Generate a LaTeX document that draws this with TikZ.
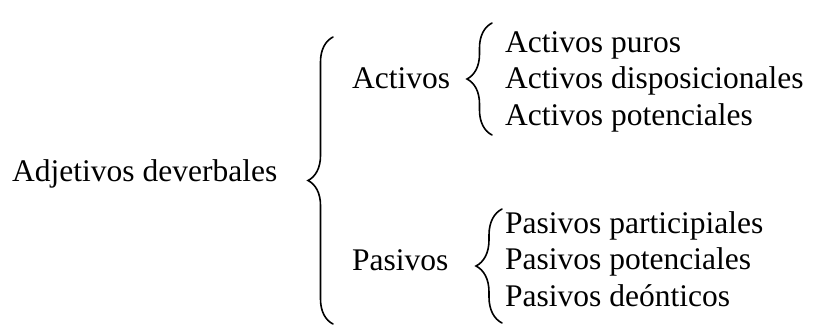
\documentclass[tikz,border=0pt]{standalone}
\usepackage{fontspec}
\setmainfont{Liberation Serif}
\usetikzlibrary{decorations.pathreplacing}
\tikzset{
  txt/.style={anchor=base west, inner sep=0pt, font=\fontsize{31.5}{36}\selectfont},
  bracel/.style={decorate, decoration={brace, amplitude=#1}, line width=1.6pt, line cap=round}
}
\begin{document}
\begin{tikzpicture}[x=1pt, y=-1pt]
\useasboundingbox (0,0) rectangle (813,325);
% root
\node[txt] (root) at (12,181) {Adjetivos deverbales};
% level 1
\node[txt] (act) at (352,88) {Activos};
\node[txt] (pas) at (352,270) {Pasivos};
% level 2
\node[txt] (a1) at (505,52) {Activos puros};
\node[txt] (a2) at (505,88.5) {Activos disposicionales};
\node[txt] (a3) at (505,125) {Activos potenciales};
\node[txt] (p1) at (505,233) {Pasivos participiales};
\node[txt] (p2) at (505,269.5) {Pasivos potenciales};
\node[txt] (p3) at (505,306) {Pasivos deónticos};
% braces
\coordinate (b0s) at (333,324);
\coordinate (b0e) at (333,37);
\coordinate (b1s) at (492,135);
\coordinate (b1e) at (492,23);
\coordinate (b2s) at (502,323);
\coordinate (b2e) at (502,209);
\draw[bracel=25pt] (b0s) -- (b0e);
\draw[bracel=25pt] (b1s) -- (b1e);
\draw[bracel=26pt] (b2s) -- (b2e);
\end{tikzpicture}
\end{document}
